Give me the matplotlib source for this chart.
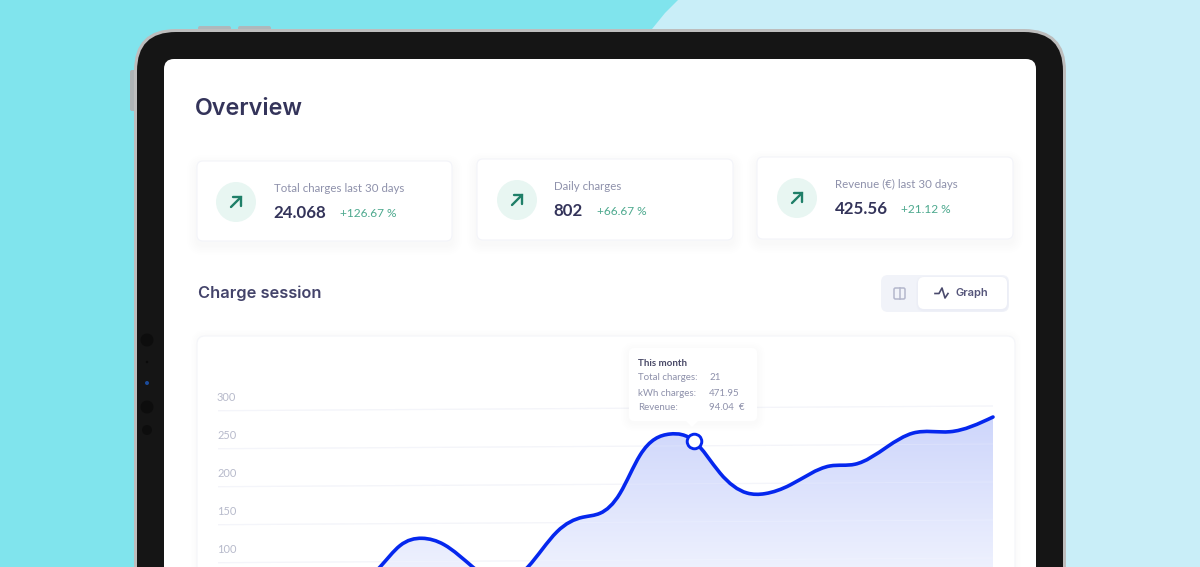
import numpy as np
import matplotlib
matplotlib.use("Agg")
import matplotlib.pyplot as plt
from matplotlib.patches import FancyBboxPatch, Circle, Polygon, PathPatch, Rectangle
from matplotlib.path import Path
from matplotlib.transforms import Affine2D, ScaledTranslation

# ---------- data ----------
x_pos = [345, 380, 400, 422, 444, 473, 500, 528, 557, 583, 600, 620, 640, 670,
         694, 720, 747, 765, 790, 830, 855, 887, 913, 950, 993]
sessions = [55, 93, 121, 130.5, 122, 92, 72, 92, 138, 157, 162, 188, 238, 265.7,
            256.3, 214, 187.5, 186.5, 197.6, 222.4, 224.5, 247, 265, 266.5, 285.5]
y_ticks = [100, 150, 200, 250, 300]
highlight_x = 694
highlight_y = 256.3

card_titles = ["Total charges last 30 days", "Daily charges", "Revenue (€) last 30 days"]
card_values = ["24.068", "802", "425.56"]
card_deltas = ["+126.67 %", "+66.67 %", "+21.12 %"]
tooltip_title = "This month"
tooltip_labels = ["Total charges:", "kWh charges:", "Revenue:"]
tooltip_values = ["21", "471.95", "94.04  €"]

# ---------- styles ----------
W, H = 1200, 567
INK = "#34345A"
MUTED = "#8E91AB"
BLUE = "#0527EE"
GREEN = "#1F7F68"
HEAD = ["Inter", "Lato", "DejaVu Sans"]
plt.rcParams["font.family"] = ["Lato", "DejaVu Sans"]

fig = plt.figure(figsize=(W / 100, H / 100), dpi=100)
bg = fig.add_axes([0, 0, 1, 1], zorder=0)
bg.set_xlim(0, W)
bg.set_ylim(H, 0)
bg.axis("off")


def rbox(ax, x0, y0, x1, y1, r, fc, ec="none", lw=0, z=1, alpha=None):
    p = FancyBboxPatch((x0 + r, y0 + r), x1 - x0 - 2 * r, y1 - y0 - 2 * r,
                       boxstyle=f"round,pad={r},rounding_size={r}",
                       fc=fc, ec=ec, lw=lw, zorder=z, alpha=alpha)
    ax.add_patch(p)
    return p


def shadow(ax, x0, y0, x1, y1, r, z, dy=4, steps=6, spread=10, a=0.004):
    for i in range(steps):
        g = spread * (1 - i / steps)
        rbox(ax, x0 - g, y0 - g + dy, x1 + g, y1 + g + dy, r + g, "#3A3F80", z=z, alpha=a)


# background
bg.add_patch(Rectangle((0, 0), W, H, fc="#C9EEF8", ec="none", zorder=0))
bg.add_patch(Polygon([(0, 0), (678, 0), (665, 13), (652, 29), (600, 120), (600, H), (0, H)],
                     fc="#80E4ED", ec="none", zorder=0.1))

# tablet
rbox(bg, 198, 26, 231, 40, 2, "#AEB8BC", z=0.5)
rbox(bg, 238, 26, 271, 40, 2, "#AEB8BC", z=0.5)
rbox(bg, 130, 70, 140, 111, 2, "#AEB4B6", z=0.5)
rbox(bg, 134, 29, 1066, 700, 42, "#BDBDBD", z=1)
rbox(bg, 137, 32, 1063, 700, 39, "#151515", z=1.1)
rbox(bg, 164, 59, 1036, 700, 10, "#FFFFFF", z=1.2)
for yy, rr, col in [(340, 6.5, "#0D0D0D"), (362, 1.2, "#0A0A0A"), (383, 2, "#1B4B9A"),
                    (407, 6.5, "#0D0D0D"), (430, 5, "#0D0D0D")]:
    bg.add_patch(Circle((147, yy), rr, fc=col, ec="none", zorder=1.3))

# heading
bg.text(195, 109, "Overview", fontsize=16.8, fontweight="semibold", family=HEAD, color=INK,
        va="center", ha="left", zorder=5)

# KPI cards
cards = [(197, 161, 452, 241, 236, 202, 274),
         (477, 159, 733, 240, 517, 200, 554),
         (757, 157, 1013, 239, 797, 198, 835)]
delta_x = [340, 597, 901]
for i, (x0, y0, x1, y1, cx, cy, tx) in enumerate(cards):
    shadow(bg, x0, y0, x1, y1, 6, 2)
    rbox(bg, x0, y0, x1, y1, 6, "#FFFFFF", ec="#F3F4F9", lw=0.8, z=3)
    bg.add_patch(Circle((cx, cy), 20, fc="#E8F6F2", ec="none", zorder=4))
    bg.plot([cx - 5, cx + 5], [cy + 5, cy - 5], color=GREEN, lw=1.7, zorder=5, solid_capstyle="round")
    bg.plot([cx - 3.5, cx + 5, cx + 5], [cy - 5, cy - 5, cy + 3.5], color=GREEN, lw=1.7, zorder=5,
            solid_capstyle="round", solid_joinstyle="miter")
    bg.text(tx, cy - 13.2, card_titles[i], fontsize=8.3, color=MUTED, va="center", ha="left", zorder=5)
    bg.text(tx - 0.5, cy + 10.8, card_values[i], fontsize=12.2, fontweight="bold", color=INK, va="center", ha="left", zorder=5)
    bg.text(delta_x[i], cy + 11.3, card_deltas[i], fontsize=8.6, color="#4DA98E", va="center", ha="left", zorder=5)

# section header and toggle
bg.text(198, 293.5, "Charge session", fontsize=11.8, fontweight="semibold", family=HEAD, color="#43436A",
        va="center", ha="left", zorder=5)
rbox(bg, 881, 275, 1009, 312, 7, "#F1F3F9", z=3)
shadow(bg, 918, 277, 1007, 309, 6, 3.1, dy=1, steps=3, spread=2, a=0.006)
rbox(bg, 918, 277, 1007, 309, 6, "#FFFFFF", z=3.5)
rbox(bg, 894, 288, 905, 299, 1.5, "none", ec="#B4B7CC", lw=1.1, z=5)
bg.plot([899.5, 899.5], [288, 299], color="#B4B7CC", lw=1.1, zorder=5)
bg.plot([935, 939, 942, 945, 948], [293.5, 293.5, 288, 298, 293.5], color="#4A4A6C", lw=1.2, zorder=5)
bg.text(955, 293.5, "Graph", fontsize=8, fontweight="semibold", family=HEAD, color="#55557A",
        va="center", ha="left", zorder=5)

# chart card
shadow(bg, 197, 336, 1015, 700, 8, 2, dy=0, steps=4, spread=6, a=0.004)
rbox(bg, 197, 336, 1015, 700, 8, "#FFFFFF", ec="#F4F5F9", lw=0.8, z=3)

# chart axes: 300 sits at pixel row 410.7, 38 pixels per 50 units
PX_TOP, PX_LEFT, PX_RIGHT = 380, 218, 993
UNIT = 50 / 38
ax = fig.add_axes([PX_LEFT / W, 0, (PX_RIGHT - PX_LEFT) / W, (H - PX_TOP) / H], zorder=1)
ax.patch.set_alpha(0)
for s in ax.spines.values():
    s.set_visible(False)
ax.set_xticks([])
ax.set_yticks(y_ticks)
ax.set_yticklabels([str(v) for v in y_ticks])
ax.tick_params(axis="y", length=0, pad=0, labelcolor="#B7BACB", labelsize=7.9)
lift = ScaledTranslation(-1 / 100, 14.3 / 100, fig.dpi_scale_trans)
for lab in ax.get_yticklabels():
    lab.set_ha("left")
    lab.set_transform(lab.get_transform() + lift)

# the screen is photographed at a slight angle
k = 4.7 / 775
shear = Affine2D(np.array([[1, 0, 0], [k, 1, -k * PX_LEFT], [0, 0, 1]], float))
tilted = ax.transData + shear

ax.hlines(y_ticks, PX_LEFT, PX_RIGHT, colors="#F2F3F9", lw=0.9, transform=tilted, zorder=1)

# smooth curve: natural cubic spline slopes through the read points, drawn as Bezier segments
px = np.array(x_pos, float)
py = np.array(sessions, float)
n = len(px)
h = np.diff(px)
d = np.diff(py) / h
A = np.zeros((n, n))
b = np.zeros(n)
A[0, 0], A[0, 1], b[0] = 2, 1, 3 * d[0]
A[-1, -1], A[-1, -2], b[-1] = 2, 1, 3 * d[-1]
for i in range(1, n - 1):
    A[i, i - 1] = h[i]
    A[i, i] = 2 * (h[i - 1] + h[i])
    A[i, i + 1] = h[i - 1]
    b[i] = 3 * (h[i] * d[i - 1] + h[i - 1] * d[i])
slope = np.linalg.solve(A, b)

verts = [(px[0], py[0])]
codes = [Path.MOVETO]
for a in range(n - 1):
    t = h[a] / 3
    verts += [(px[a] + t, py[a] + slope[a] * t), (px[a + 1] - t, py[a + 1] - slope[a + 1] * t), (px[a + 1], py[a + 1])]
    codes += [Path.CURVE4] * 3
line_path = Path(verts, codes)
fill_path = Path(verts + [(px[-1], 0), (px[0], 0), verts[0]],
                 codes + [Path.LINETO, Path.LINETO, Path.CLOSEPOLY])

clip = PathPatch(fill_path, transform=tilted, fc="none", ec="none")
ax.add_patch(clip)
c_top = np.array([206, 214, 251, 255]) / 255
c_bot = np.array([238, 241, 254, 255]) / 255
ramp = np.linspace(c_top, c_bot, 256)[:, None, :]
im = ax.imshow(ramp, extent=(PX_LEFT, PX_RIGHT, 90, 290), aspect="auto", zorder=2, interpolation="bilinear")
im.set_clip_path(clip)
ax.set_xlim(PX_LEFT, PX_RIGHT)
ax.set_ylim(300 - (H - 410.7) * UNIT, 300 + (410.7 - PX_TOP) * UNIT)
ax.hlines(y_ticks, PX_LEFT, PX_RIGHT, colors="#FFFFFF", lw=0.7, alpha=0.2, transform=tilted, zorder=2.5)

ax.add_patch(PathPatch(line_path, transform=tilted, fc="none", ec=BLUE, lw=2.6, zorder=3,
                       capstyle="round", clip_on=False))
ax.plot([highlight_x], [highlight_y], marker="o", ms=10.5, mfc="white", mec=BLUE, mew=2.1,
        transform=tilted, zorder=4, clip_on=False)

# tooltip above the chart
top = fig.add_axes([0, 0, 1, 1], zorder=2)
top.set_xlim(0, W)
top.set_ylim(H, 0)
top.axis("off")
shadow(top, 629, 348, 757, 421, 6, 1, dy=2, steps=5, spread=8, a=0.005)
rbox(top, 629, 348, 757, 421, 5, "#FFFFFF", z=2)
top.add_patch(Polygon([(686, 421), (698, 421), (692, 427)], fc="#FFFFFF", ec="none", zorder=2))
top.text(638, 363, tooltip_title, fontsize=7, fontweight="bold", color="#4A4A68", va="center", ha="left", zorder=3)
val_x = [710, 709, 709]
for i, (lab, val) in enumerate(zip(tooltip_labels, tooltip_values)):
    yy = 378 + 15 * i
    top.text(638, yy, lab, fontsize=7, color=MUTED, va="center", ha="left", zorder=3)
    top.text(val_x[i], yy, val, fontsize=7, color=MUTED, va="center", ha="left", zorder=3)

fig.savefig("out.png", dpi=100)
